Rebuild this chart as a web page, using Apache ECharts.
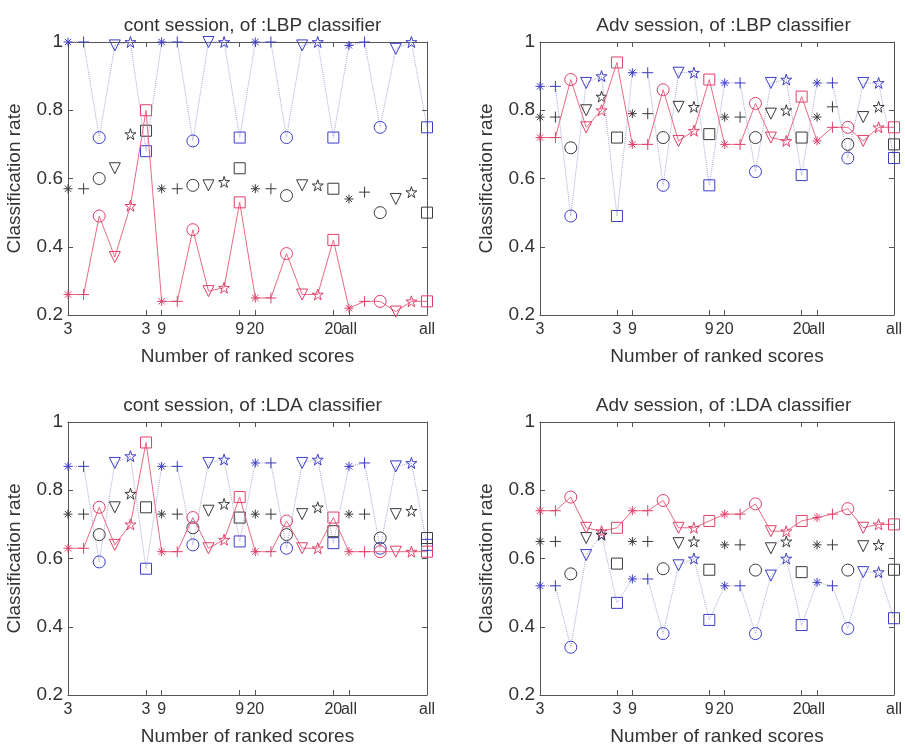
<!DOCTYPE html>
<html>
<head>
<meta charset="utf-8">
<script src="https://cdn.jsdelivr.net/npm/echarts@6/dist/echarts.min.js"></script>
<style>
html, body { margin: 0; padding: 0; background: #fff; }
#main { width: 905px; height: 748px; }
</style>
</head>
<body>
<div id="main"></div>
<script>
// x positions 1..24 = 4 groups (3, 9, 20, all) x 6 methods
var xTickPos = [1, 6, 7, 12, 13, 18, 19, 24];
var xTickLabels = ['3', '3', '9', '9', '20', '20', 'all', 'all'];
var titles = ['cont session, of :LBP classifier', 'Adv session, of :LBP classifier',
              'cont session, of :LDA classifier', 'Adv session, of :LDA classifier'];

// cont session, LBP
var contLbpBlue  = [1.00, 1.00, 0.72, 0.99, 1.00, 0.68,  1.00, 1.00, 0.71, 1.00, 1.00, 0.72,  1.00, 1.00, 0.72, 0.99, 1.00, 0.72,  0.99, 1.00, 0.75, 0.98, 1.00, 0.75];
var contLbpBlack = [0.57, 0.57, 0.60, 0.63, 0.73, 0.74,  0.57, 0.57, 0.58, 0.58, 0.59, 0.63,  0.57, 0.57, 0.55, 0.58, 0.58, 0.57,  0.54, 0.56, 0.50, 0.54, 0.56, 0.50];
var contLbpRed   = [0.26, 0.26, 0.49, 0.37, 0.52, 0.80,  0.24, 0.24, 0.45, 0.27, 0.28, 0.53,  0.25, 0.25, 0.38, 0.26, 0.26, 0.42,  0.22, 0.24, 0.24, 0.21, 0.24, 0.24];
// Adv session, LBP
var advLbpBlue   = [0.87, 0.87, 0.49, 0.88, 0.90, 0.49,  0.91, 0.91, 0.58, 0.91, 0.91, 0.58,  0.88, 0.88, 0.62, 0.88, 0.89, 0.61,  0.88, 0.88, 0.66, 0.88, 0.88, 0.66];
var advLbpBlack  = [0.78, 0.78, 0.69, 0.80, 0.84, 0.72,  0.79, 0.79, 0.72, 0.81, 0.81, 0.73,  0.78, 0.78, 0.72, 0.79, 0.80, 0.72,  0.78, 0.81, 0.70, 0.78, 0.81, 0.70];
var advLbpRed    = [0.72, 0.72, 0.89, 0.75, 0.80, 0.94,  0.70, 0.70, 0.86, 0.71, 0.74, 0.89,  0.70, 0.70, 0.82, 0.72, 0.71, 0.84,  0.71, 0.75, 0.75, 0.71, 0.75, 0.75];
// cont session, LDA
var contLdaBlue  = [0.87, 0.87, 0.59, 0.88, 0.90, 0.57,  0.87, 0.87, 0.64, 0.88, 0.89, 0.65,  0.88, 0.88, 0.63, 0.88, 0.89, 0.645, 0.87, 0.88, 0.63, 0.87, 0.88, 0.64];
var contLdaBlack = [0.73, 0.73, 0.67, 0.75, 0.79, 0.75,  0.73, 0.73, 0.69, 0.74, 0.76, 0.72,  0.73, 0.73, 0.67, 0.73, 0.75, 0.68,  0.73, 0.73, 0.66, 0.73, 0.74, 0.66];
var contLdaRed   = [0.63, 0.63, 0.75, 0.64, 0.70, 0.94,  0.62, 0.62, 0.72, 0.63, 0.655, 0.78, 0.62, 0.62, 0.71, 0.63, 0.63, 0.72,  0.62, 0.62, 0.62, 0.62, 0.62, 0.62];
// Adv session, LDA
var advLdaBlue   = [0.52, 0.52, 0.34, 0.61, 0.67, 0.47,  0.54, 0.54, 0.38, 0.58, 0.60, 0.42,  0.52, 0.52, 0.38, 0.55, 0.60, 0.405, 0.53, 0.52, 0.395, 0.56, 0.56, 0.425];
var advLdaBlack  = [0.65, 0.65, 0.555, 0.66, 0.67, 0.585, 0.65, 0.65, 0.57, 0.645, 0.65, 0.567, 0.64, 0.64, 0.566, 0.63, 0.65, 0.56, 0.64, 0.64, 0.566, 0.636, 0.64, 0.567];
var advLdaRed    = [0.74, 0.74, 0.78, 0.69, 0.68, 0.69,  0.74, 0.74, 0.77, 0.69, 0.69, 0.71,  0.73, 0.73, 0.76, 0.68, 0.68, 0.71,  0.72, 0.73, 0.746, 0.69, 0.70, 0.70];

var panels = [
    [contLbpBlue, contLbpBlack, contLbpRed],
    [advLbpBlue, advLbpBlack, advLbpRed],
    [contLdaBlue, contLdaBlack, contLdaRed],
    [advLdaBlue, advLdaBlack, advLdaRed]
];

// matlab-like markers, one per method in a group
var markers = [
    {symbol: 'path://M5,0V10M0,5H10M1.5,1.5L8.5,8.5M8.5,1.5L1.5,8.5', size: 9},
    {symbol: 'path://M5,0V10M0,5H10', size: 11},
    {symbol: 'circle', size: 12},
    {symbol: 'path://M0,0H10L5,9Z', size: 11},
    {symbol: 'path://M5,0L6.12,3.46L9.76,3.45L6.81,5.59L7.94,9.05L5,6.9L2.06,9.05L3.19,5.59L0.24,3.45L3.88,3.46Z', size: 11},
    {symbol: 'rect', size: 11}
];

var font = 'Liberation Sans, Arial, Helvetica, sans-serif';
var txt = '#333';
var axisCol = '#555';

var grids = [
    {left: 68, top: 42, width: 359, height: 273},
    {left: 540, top: 42, width: 357, height: 273},
    {left: 68, top: 422, width: 359, height: 273},
    {left: 540, top: 422, width: 357, height: 273}
];

var styles = [
    {mark: '#3c3cc8', line: '#a9a9d6', type: 'dotted', show: true},
    {mark: '#3a3a3a', line: '#999', type: 'dotted', show: false},
    {mark: '#e0406a', line: '#e86a86', type: 'solid', show: true}
];

var xAxes = [], yAxes = [], series = [], title = [];
grids.forEach(function (g, gi) {
    title.push({
        text: titles[gi],
        left: g.left + g.width / 2,
        top: g.top - 31,
        textAlign: 'center',
        textStyle: {fontFamily: font, fontSize: 19, fontWeight: 'normal', color: txt}
    });
    ['bottom', 'top'].forEach(function (pos) {
        xAxes.push({
            gridIndex: gi, type: 'value', min: 1, max: 24, position: pos,
            axisLine: {show: true, onZero: false, lineStyle: {color: axisCol}},
            axisTick: {show: true, inside: true, length: 5, customValues: xTickPos, lineStyle: {color: axisCol}},
            axisLabel: {
                show: pos === 'bottom', customValues: xTickPos, margin: 7,
                color: txt, fontSize: 16, fontFamily: font,
                formatter: function (v) { return xTickLabels[xTickPos.indexOf(Math.round(v))]; }
            },
            splitLine: {show: false},
            name: pos === 'bottom' ? 'Number of ranked scores' : '',
            nameLocation: 'middle', nameGap: 32,
            nameTextStyle: {fontFamily: font, fontSize: 19, color: txt}
        });
    });
    ['left', 'right'].forEach(function (pos) {
        yAxes.push({
            gridIndex: gi, type: 'value', min: 0.2, max: 1, interval: 0.2, position: pos,
            axisLine: {show: true, onZero: false, lineStyle: {color: axisCol}},
            axisTick: {show: true, inside: true, length: 5, lineStyle: {color: axisCol}},
            axisLabel: {
                show: pos === 'left', margin: 5, color: txt, fontSize: 19, fontFamily: font,
                formatter: function (v) { return String(Math.round(v * 10) / 10); }
            },
            splitLine: {show: false},
            name: pos === 'left' ? 'Classification rate' : '',
            nameLocation: 'middle', nameGap: 44,
            nameTextStyle: {fontFamily: font, fontSize: 19, color: txt}
        });
    });
    panels[gi].forEach(function (vals, si) {
        var st = styles[si];
        series.push({
            type: 'line',
            xAxisIndex: gi * 2,
            yAxisIndex: gi * 2,
            clip: false,
            data: vals.map(function (v, i) {
                var m = markers[i % 6];
                return {value: [i + 1, v], symbol: m.symbol, symbolSize: m.size};
            }),
            itemStyle: {color: 'rgba(0,0,0,0)', borderColor: st.mark, borderWidth: 1},
            lineStyle: {color: st.line, width: 1, type: st.type, opacity: st.show ? 1 : 0},
            emphasis: {disabled: true},
            z: 2 + si
        });
    });
});

var myChart = echarts.init(document.getElementById('main'));
myChart.setOption({
    animation: false,
    backgroundColor: '#fff',
    title: title,
    grid: grids,
    xAxis: xAxes,
    yAxis: yAxes,
    tooltip: {show: false},
    series: series
});
</script>
</body>
</html>
